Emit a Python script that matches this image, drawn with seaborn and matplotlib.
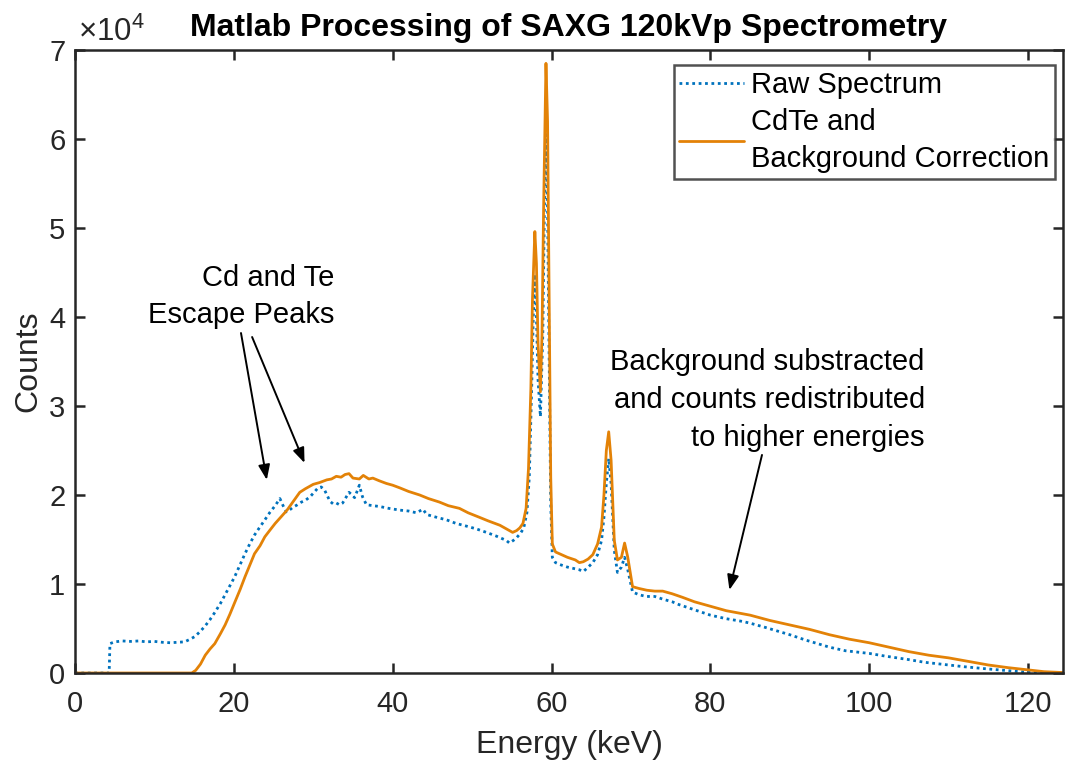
import matplotlib
matplotlib.use("Agg")
import matplotlib.pyplot as plt
import seaborn as sns
import numpy as np

# ---------------- data ----------------
energy_raw = [0, 4.3, 4.4, 5, 6, 7, 8, 9, 10, 11, 12, 13, 13.8, 14.5, 15.1, 15.8,
              16.4, 17, 17.6, 18.3, 18.9, 19.5, 20.1, 20.8, 21.4, 22, 22.6, 23.2,
              23.9, 24.5, 25.2, 25.8, 26.2, 26.6, 27, 27.4, 28, 28.5, 29, 29.6,
              30.1, 30.6, 31.0, 31.4, 32.1, 32.5, 32.9, 33.3, 33.7, 34.1, 34.5,
              34.9, 35.2, 35.6, 35.8, 36.2, 36.7, 37.5, 38.4, 39.5, 40.9, 42, 43,
              43.8, 44.3, 45.5, 46.8, 48, 49.3, 50.5, 51.8, 53, 54.3, 54.7, 55.2,
              55.6, 56.1, 56.5, 56.9, 57.2, 57.5, 57.7, 57.9, 58.1, 58.3, 58.6,
              58.9, 59.1, 59.3, 59.5, 59.7, 59.9, 60.1, 60.5, 61, 62, 63, 63.5,
              64, 64.5, 65.2, 65.8, 66.3, 66.6, 66.9, 67.2, 67.5, 67.9, 68.3,
              68.8, 69.2, 69.6, 70.2, 71, 71.9, 73, 74, 75.2, 76, 77, 78, 79, 80,
              82, 84, 85, 87, 90, 92, 95, 97, 100, 102, 105, 107, 110, 112, 115,
              117, 119, 120.5, 121, 124.4]
counts_raw = [0, 0, 3300, 3500, 3600, 3550, 3600, 3500, 3550, 3450, 3400, 3450,
              3500, 3800, 4100, 4700, 5300, 6000, 6800, 7800, 8800, 9800, 10800,
              12200, 13400, 14500, 15500, 16300, 17200, 18000, 18800, 19600,
              18800, 18100, 18300, 18600, 18900, 19200, 19400, 19800, 20300,
              20800, 20900, 20600, 19300, 19000, 19100, 18900, 19100, 19700,
              20300, 20000, 19700, 20600, 21100, 19800, 18900, 18800, 18700,
              18500, 18300, 18200, 18000, 18400, 17800, 17500, 17200, 16800,
              16500, 16200, 15800, 15400, 14900, 14600, 14900, 15200, 15700,
              16300, 18000, 22000, 32000, 40000, 44800, 40000, 33000, 28800,
              38000, 52000, 60500, 52000, 35000, 19000, 13000, 12400, 12200,
              11900, 11700, 11600, 11400, 11800, 12400, 13300, 14900, 17500,
              21300, 24100, 21300, 13800, 11300, 11900, 13000, 11600, 9100,
              8800, 8600, 8600, 8300, 8000, 7700, 7400, 7100, 6800, 6500, 6100,
              5800, 5600, 5100, 4300, 3700, 2900, 2500, 2200, 1900, 1500, 1200,
              900, 700, 450, 300, 150, 50, 0, 0]

energy_corr = [0, 14.7, 15.2, 15.8, 16.4, 17, 17.6, 18.3, 18.9, 19.5, 20.1, 20.8,
               21.4, 22, 22.6, 23.3, 23.9, 24.5, 25.2, 26, 26.7, 27.5, 28.3, 29,
               30, 30.8, 31.7, 32.3, 32.9, 33.5, 34, 34.5, 35, 35.8, 36.3, 37,
               37.5, 38.3, 39.2, 40, 40.9, 42, 43.4, 44.5, 45.9, 47, 48.4, 49.5,
               50.9, 52, 53.5, 54.3, 55.1, 55.6, 56, 56.4, 56.8, 57.1, 57.4, 57.6,
               57.9, 58.1, 58.3, 58.6, 58.8, 59.0, 59.3, 59.5, 59.7, 59.9, 60.1,
               60.5, 61, 62, 63, 63.5, 64, 64.6, 65.2, 65.8, 66.3, 66.6, 66.9,
               67.2, 67.5, 67.9, 68.3, 68.8, 69.2, 69.6, 70.2, 71, 72, 73, 74,
               75.2, 76.5, 78, 80, 82, 85, 87.5, 90, 92.5, 95, 97.5, 100, 102.5,
               105, 107.5, 110, 112.5, 115, 117.5, 120, 122, 124.4]
counts_corr = [0, 0, 300, 1000, 2000, 2700, 3300, 4400, 5400, 6600, 7900, 9400,
               10800, 12100, 13400, 14300, 15300, 16000, 16800, 17600, 18300,
               19300, 20300, 20700, 21200, 21400, 21700, 21800, 22100, 22000,
               22300, 22400, 21900, 21800, 22200, 21800, 21900, 21600, 21300,
               21100, 20800, 20400, 20000, 19600, 19200, 18800, 18500, 18000,
               17500, 17100, 16600, 16200, 15800, 16000, 16300, 16800, 18500,
               23000, 32000, 42000, 49600, 46000, 37000, 31600, 38000, 52000,
               68500, 62000, 42000, 22000, 14500, 13600, 13400, 13000, 12700,
               12400, 12500, 12800, 13300, 14500, 16400, 20000, 25000, 27100,
               23900, 14900, 12700, 13000, 14600, 13000, 9700, 9500, 9300, 9200,
               9200, 8900, 8500, 8000, 7500, 7000, 6500, 5900, 5400, 4900, 4300,
               3800, 3400, 2900, 2400, 2000, 1700, 1300, 900, 600, 350, 150, 50]

series_labels = ["Raw Spectrum", "CdTe and\nBackground Correction"]
x_ticks = [0, 20, 40, 60, 80, 100, 120]
y_ticks = [0, 10000, 20000, 30000, 40000, 50000, 60000, 70000]
y_tick_labels = ["0", "1", "2", "3", "4", "5", "6", "7"]

# ---------------- style ----------------
sns.set_style("white")
plt.rcParams["font.family"] = ["Liberation Sans", "DejaVu Sans"]
plt.rcParams["mathtext.fontset"] = "custom"
plt.rcParams["mathtext.rm"] = "Liberation Sans"
plt.rcParams["mathtext.it"] = "Liberation Sans"

AX_COLOR = "#262626"
BLUE = "#0072BD"
ORANGE = "#E38207"
FS = 21
FS_BIG = 23
LS = 1.45

fig = plt.figure(figsize=(10.65, 7.64), dpi=100)
ax = fig.add_axes([75 / 1065, 1 - 673 / 764, (1063 - 75) / 1065, (673 - 50) / 764])

sns.lineplot(x=energy_raw, y=counts_raw, ax=ax, color=BLUE, linestyle=(0, (1, 1.3)),
             linewidth=2.0, label=series_labels[0], sort=False)
sns.lineplot(x=energy_corr, y=counts_corr, ax=ax, color=ORANGE, linestyle="-",
             linewidth=2.0, label=series_labels[1], sort=False)

ax.set_xlim(0, 124.4)
ax.set_ylim(0, 70000)
ax.set_xticks(x_ticks)
ax.set_yticks(y_ticks)
ax.set_yticklabels(y_tick_labels)

for s in ax.spines.values():
    s.set_visible(True)
    s.set_color(AX_COLOR)
    s.set_linewidth(1.8)
ax.tick_params(axis="both", which="both", direction="in", length=7, width=1.8,
               color=AX_COLOR, labelcolor=AX_COLOR, labelsize=FS,
               top=True, right=True, bottom=True, left=True)
ax.tick_params(axis="x", pad=12)
ax.tick_params(axis="y", pad=7)

ax.set_xlabel("Energy (keV)", fontsize=FS_BIG, color=AX_COLOR, labelpad=9)
ax.set_ylabel("Counts", fontsize=FS_BIG, color=AX_COLOR, labelpad=4)
ax.set_title("Matlab Processing of SAXG 120kVp Spectrometry", fontsize=FS_BIG,
             fontweight="bold", color="black", pad=10)

ax.text(0.003, 1.003, r"×10$^{4}$", transform=ax.transAxes, fontsize=22.5,
        color=AX_COLOR, ha="left", va="bottom")

leg = ax.legend(loc="upper right", bbox_to_anchor=(0.9919, 0.9759),
                borderaxespad=0, fontsize=FS, frameon=True, fancybox=False,
                handlelength=2.2, handletextpad=0.25, borderpad=0.2,
                labelspacing=0.3)
leg.get_frame().set_edgecolor(AX_COLOR)
leg.get_frame().set_linewidth(1.8)
for t in leg.get_texts():
    t.set_color("black")
    t.set_linespacing(LS)

# annotations
arrow_kw = dict(arrowstyle="-|>,head_length=0.9,head_width=0.35", color="black",
                lw=1.4, shrinkA=0, shrinkB=0)
ax.text(32.6, 42300, "Cd and Te\nEscape Peaks", fontsize=FS, ha="right",
        va="center", multialignment="right", color="black", linespacing=LS)
ax.annotate("", xy=(24.15, 21700), xytext=(20.9, 38200), arrowprops=arrow_kw)
ax.annotate("", xy=(28.9, 23600), xytext=(22.3, 37750), arrowprops=arrow_kw)

ax.text(107.0, 30700, "Background substracted\nand counts redistributed\nto higher energies",
        fontsize=FS, ha="right", va="center", multialignment="right", color="black",
        linespacing=LS)
ax.annotate("", xy=(82.4, 9330), xytext=(86.5, 24500), arrowprops=arrow_kw)

fig.savefig("out.png", dpi=100)
